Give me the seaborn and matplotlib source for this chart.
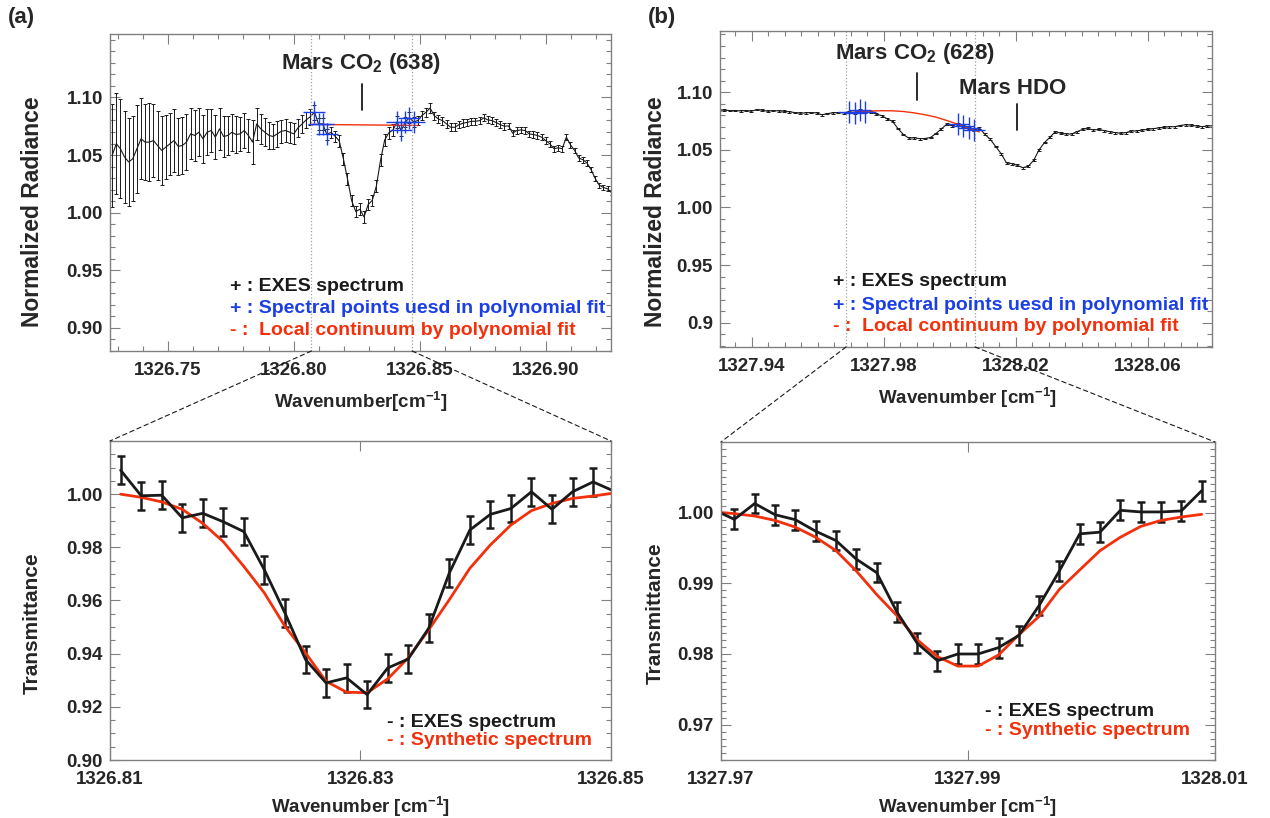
import matplotlib
matplotlib.use('Agg')
import matplotlib.pyplot as plt
import seaborn as sns
from matplotlib.ticker import MultipleLocator, FixedLocator, FixedFormatter
from matplotlib.patches import ConnectionPatch

# ---------------- data ----------------
# (a) top: EXES spectrum around the CO2 (638) line
wn_a = [1326.72786, 1326.72950, 1326.73114, 1326.73278, 1326.73442, 1326.73606, 1326.73770, 1326.73934, 1326.74098, 1326.74262,
        1326.74426, 1326.74590, 1326.74754, 1326.74918, 1326.75082, 1326.75246, 1326.75410, 1326.75574, 1326.75738, 1326.75902,
        1326.76066, 1326.76230, 1326.76394, 1326.76558, 1326.76722, 1326.76886, 1326.77050, 1326.77214, 1326.77378, 1326.77542,
        1326.77706, 1326.77870, 1326.78034, 1326.78198, 1326.78362, 1326.78526, 1326.78690, 1326.78854, 1326.79018, 1326.79182,
        1326.79346, 1326.79510, 1326.79674, 1326.79838, 1326.80002, 1326.80166, 1326.80330, 1326.80494, 1326.80658, 1326.80822,
        1326.80986, 1326.81150, 1326.81314, 1326.81478, 1326.81642, 1326.81806, 1326.81970, 1326.82134, 1326.82298, 1326.82462,
        1326.82626, 1326.82790, 1326.82954, 1326.83118, 1326.83282, 1326.83446, 1326.83610, 1326.83774, 1326.83938, 1326.84102,
        1326.84266, 1326.84430, 1326.84594, 1326.84758, 1326.84922, 1326.85086, 1326.85250, 1326.85414, 1326.85578, 1326.85742,
        1326.85906, 1326.86070, 1326.86234, 1326.86398, 1326.86562, 1326.86726, 1326.86890, 1326.87054, 1326.87218, 1326.87382,
        1326.87546, 1326.87710, 1326.87874, 1326.88038, 1326.88202, 1326.88366, 1326.88530, 1326.88694, 1326.88858, 1326.89022,
        1326.89186, 1326.89350, 1326.89514, 1326.89678, 1326.89842, 1326.90006, 1326.90170, 1326.90334, 1326.90498, 1326.90662,
        1326.90826, 1326.90990, 1326.91154, 1326.91318, 1326.91482, 1326.91646, 1326.91810, 1326.91974, 1326.92138, 1326.92302,
        1326.92466, 1326.92630]
rad_a = [1.0497, 1.0598, 1.0555, 1.0483, 1.0440, 1.0468, 1.0555, 1.0641, 1.0612, 1.0612,
         1.0626, 1.0583, 1.0540, 1.0569, 1.0598, 1.0626, 1.0575, 1.0583, 1.0612, 1.0684,
         1.0670, 1.0698, 1.0641, 1.0698, 1.0713, 1.0655, 1.0727, 1.0661, 1.0670, 1.0698,
         1.0678, 1.0684, 1.0713, 1.0670, 1.0612, 1.0770, 1.0727, 1.0698, 1.0670, 1.0661,
         1.0684, 1.0707, 1.0713, 1.0698, 1.0684, 1.0736, 1.0770, 1.0805, 1.0833, 1.0872,
         1.0769, 1.0771, 1.0679, 1.0697, 1.0663, 1.0623, 1.0468, 1.0293, 1.0105, 1.0010,
         1.0030, 0.9963, 1.0070, 1.0107, 1.0232, 1.0455, 1.0630, 1.0693, 1.0717, 1.0785,
         1.0714, 1.0785, 1.0825, 1.0788, 1.0799, 1.0842, 1.0871, 1.0908, 1.0842, 1.0813,
         1.0799, 1.0770, 1.0741, 1.0741, 1.0764, 1.0776, 1.0784, 1.0793, 1.0793, 1.0799,
         1.0822, 1.0805, 1.0799, 1.0782, 1.0764, 1.0750, 1.0753, 1.0690, 1.0713, 1.0718,
         1.0713, 1.0684, 1.0678, 1.0670, 1.0655, 1.0626, 1.0598, 1.0555, 1.0563, 1.0555,
         1.0655, 1.0589, 1.0540, 1.0474, 1.0460, 1.0431, 1.0373, 1.0296, 1.0238, 1.0218,
         1.0207, 1.0172]
err_a = [0.045, 0.044, 0.043, 0.040, 0.038, 0.037, 0.038, 0.035, 0.033, 0.034,
         0.032, 0.030, 0.030, 0.028, 0.027, 0.027, 0.025, 0.025, 0.024, 0.022,
         0.022, 0.021, 0.021, 0.020, 0.019, 0.019, 0.018, 0.018, 0.017, 0.016,
         0.016, 0.015, 0.015, 0.014, 0.019, 0.014, 0.013, 0.012, 0.012, 0.011,
         0.011, 0.010, 0.010, 0.009, 0.009, 0.008, 0.008, 0.007, 0.007, 0.0065,
         0.005, 0.005, 0.005, 0.005, 0.005, 0.005, 0.005, 0.005, 0.005, 0.005,
         0.005, 0.005, 0.005, 0.005, 0.005, 0.005, 0.005, 0.005, 0.005, 0.005,
         0.0045, 0.0045, 0.0045, 0.0045, 0.004, 0.004, 0.004, 0.004, 0.0035, 0.0035,
         0.0035, 0.0035, 0.0033, 0.0033, 0.0033, 0.0033, 0.0032, 0.0032, 0.0032, 0.0032,
         0.0030, 0.0030, 0.0030, 0.0030, 0.0030, 0.0029, 0.0029, 0.0029, 0.0029, 0.0029,
         0.0028, 0.0028, 0.0028, 0.0028, 0.0027, 0.0027, 0.0027, 0.0026, 0.0026, 0.0026,
         0.0025, 0.0025, 0.0025, 0.0025, 0.0025, 0.0024, 0.0024, 0.0024, 0.0023, 0.0023,
         0.0022, 0.0022]
fit_idx_a = [49, 50, 51, 52, 69, 70, 71, 72, 73]
cont_wn_a = [1326.80658, 1326.84922]
cont_a = [1.0766, 1.0757]
edges_a = [1326.807, 1326.847]

# (b) top: EXES spectrum around CO2 (628) and HDO
wn_b = [1327.92996, 1327.93160, 1327.93325, 1327.93489, 1327.93654, 1327.93818, 1327.93983, 1327.94147, 1327.94312, 1327.94476,
        1327.94641, 1327.94805, 1327.94970, 1327.95134, 1327.95299, 1327.95463, 1327.95628, 1327.95792, 1327.95957, 1327.96121,
        1327.96286, 1327.96450, 1327.96615, 1327.96779, 1327.96944, 1327.97108, 1327.97273, 1327.97437, 1327.97602, 1327.97766,
        1327.97931, 1327.98095, 1327.98260, 1327.98424, 1327.98589, 1327.98753, 1327.98918, 1327.99082, 1327.99247, 1327.99411,
        1327.99576, 1327.99740, 1327.99905, 1328.00069, 1328.00234, 1328.00398, 1328.00563, 1328.00727, 1328.00892, 1328.01056,
        1328.01221, 1328.01385, 1328.01550, 1328.01714, 1328.01879, 1328.02043, 1328.02208, 1328.02372, 1328.02537, 1328.02701,
        1328.02866, 1328.03030, 1328.03195, 1328.03359, 1328.03524, 1328.03688, 1328.03853, 1328.04017, 1328.04182, 1328.04346,
        1328.04511, 1328.04675, 1328.04840, 1328.05004, 1328.05169, 1328.05333, 1328.05498, 1328.05662, 1328.05827, 1328.05991,
        1328.06156, 1328.06320, 1328.06485, 1328.06649, 1328.06814, 1328.06978, 1328.07143, 1328.07307, 1328.07472, 1328.07636,
        1328.07801, 1328.07965]
rad_b = [1.0843, 1.0843, 1.0840, 1.0840, 1.0837, 1.0840, 1.0834, 1.0849, 1.0843, 1.0834,
         1.0840, 1.0837, 1.0834, 1.0829, 1.0823, 1.0817, 1.0820, 1.0823, 1.0820, 1.0803,
         1.0814, 1.0820, 1.0823, 1.0820, 1.0827, 1.0816, 1.0844, 1.0830, 1.0825, 1.0810,
         1.0796, 1.0769, 1.0746, 1.0684, 1.0632, 1.0601, 1.0604, 1.0596, 1.0598, 1.0607,
         1.0641, 1.0681, 1.0722, 1.0708, 1.0726, 1.0706, 1.0689, 1.0673, 1.0688, 1.0635,
         1.0591, 1.0529, 1.0466, 1.0386, 1.0380, 1.0365, 1.0345, 1.0357, 1.0409, 1.0500,
         1.0563, 1.0609, 1.0657, 1.0643, 1.0637, 1.0637, 1.0657, 1.0677, 1.0686, 1.0671,
         1.0677, 1.0666, 1.0657, 1.0649, 1.0643, 1.0649, 1.0663, 1.0663, 1.0671, 1.0677,
         1.0683, 1.0689, 1.0694, 1.0700, 1.0700, 1.0711, 1.0717, 1.0714, 1.0706, 1.0700,
         1.0706, 1.0708]
err_b = 0.0008
fit_idx_b = [24, 25, 26, 27, 44, 45, 46, 47]
cont_wn_b = [1327.96944, 1327.97273, 1327.97602, 1327.97931, 1327.98260, 1327.98589, 1327.98918,
             1327.99247, 1327.99576, 1327.99905, 1328.00234, 1328.00563, 1328.00892]
cont_b = [1.0823, 1.0830, 1.0836, 1.0839, 1.0838, 1.0832, 1.0820,
          1.0804, 1.0783, 1.0754, 1.0722, 1.0688, 1.0655]
edges_b = [1327.9685, 1328.0076]

# (a) bottom: transmittance
wn_ta = [1326.81085, 1326.81249, 1326.81413, 1326.81577, 1326.81741, 1326.81905, 1326.82069, 1326.82233, 1326.82397,
         1326.82561, 1326.82725, 1326.82889, 1326.83053, 1326.83217, 1326.83381, 1326.83545, 1326.83709, 1326.83873,
         1326.84037, 1326.84201, 1326.84365, 1326.84529, 1326.84693, 1326.84857, 1326.85021]
obs_ta = [1.0090, 0.9994, 0.9996, 0.9911, 0.9928, 0.9896, 0.9859, 0.9715, 0.9553, 0.9378, 0.9290, 0.9309, 0.9246,
          0.9346, 0.9380, 0.9496, 0.9703, 0.9865, 0.9924, 0.9946, 1.0009, 0.9943, 1.0009, 1.0046, 1.0012]
syn_ta = [1.0000, 0.9988, 0.9971, 0.9943, 0.9890, 0.9821, 0.9728, 0.9628, 0.9503, 0.9403, 0.9296, 0.9255, 0.9253,
          0.9305, 0.9384, 0.9490, 0.9603, 0.9721, 0.9809, 0.9884, 0.9938, 0.9965, 0.9984, 0.9993, 1.0004]
err_ta = 0.0052

# (b) bottom: transmittance
wn_tb = [1327.96944, 1327.97108, 1327.97273, 1327.97437, 1327.97602, 1327.97766, 1327.97931, 1327.98095, 1327.98260,
         1327.98424, 1327.98589, 1327.98753, 1327.98918, 1327.99082, 1327.99247, 1327.99411, 1327.99576, 1327.99740,
         1327.99905, 1328.00069, 1328.00234, 1328.00398, 1328.00563, 1328.00727, 1328.00892]
obs_tb = [1.0004, 0.99905, 1.00129, 0.99971, 0.99900, 0.99738, 0.99605, 0.99343, 0.99152, 0.98595, 0.98152, 0.97905,
          0.98000, 0.98000, 0.98090, 0.98262, 0.98686, 0.99176, 0.99700, 0.99724, 1.00033, 1.00010, 1.00010, 1.00024, 1.00310]
syn_tb = [1.0001, 0.99986, 0.99952, 0.99890, 0.99795, 0.99652, 0.99462, 0.99176, 0.98843, 0.98543, 0.98200, 0.97962,
          0.97829, 0.97829, 0.97986, 0.98271, 0.98533, 0.98914, 0.99190, 0.99462, 0.99652, 0.99805, 0.99890, 0.99938, 0.99976]
err_tb = 0.0014

# tick positions / labels
xt_a = [1326.75, 1326.80, 1326.85, 1326.90]
xl_a = ['1326.75', '1326.80', '1326.85', '1326.90']
yt_a = [0.90, 0.95, 1.00, 1.05, 1.10]
yl_a = ['0.90', '0.95', '1.00', '1.05', '1.10']
xt_b = [1327.94, 1327.98, 1328.02, 1328.06]
xl_b = ['1327.94', '1327.98', '1328.02', '1328.06']
yl_b = ['0.9', '0.95', '1.00', '1.05', '1.10']
xt_ta = [1326.81, 1326.83, 1326.85]
xl_ta = ['1326.81', '1326.83', '1326.85']
yt_ta = [0.90, 0.92, 0.94, 0.96, 0.98, 1.00]
yl_ta = ['0.90', '0.92', '0.94', '0.96', '0.98', '1.00']
xt_tb = [1327.97, 1327.99, 1328.01]
xl_tb = ['1327.97', '1327.99', '1328.01']
yt_tb = [0.97, 0.98, 0.99, 1.00]
yl_tb = ['0.97', '0.98', '0.99', '1.00']

BLUE = '#1b3fe6'
RED = '#f2300c'
GRAY = '#808080'

sns.set_theme(style='ticks')
plt.rcParams['font.family'] = ['Liberation Sans', 'DejaVu Sans']
plt.rcParams['font.weight'] = 'bold'
plt.rcParams['mathtext.fontset'] = 'custom'
plt.rcParams['mathtext.rm'] = 'Liberation Sans:bold'
plt.rcParams['mathtext.it'] = 'Liberation Sans:bold'
plt.rcParams['mathtext.bf'] = 'Liberation Sans:bold'
plt.rcParams['mathtext.default'] = 'rm'

fig = plt.figure(figsize=(12.7, 8.18), dpi=100)
ax1 = fig.add_axes([0.0866, 0.5709, 0.3945, 0.3875])
ax2 = fig.add_axes([0.5669, 0.5758, 0.3874, 0.3863])
ax3 = fig.add_axes([0.0866, 0.0709, 0.3945, 0.3900])
ax4 = fig.add_axes([0.5677, 0.0709, 0.3890, 0.3888])


def style_axis(ax, xt, xl, yt, yl, xminor, yminor, xlim, ylim):
    ax.set_xlim(xlim)
    ax.set_ylim(ylim)
    ax.xaxis.set_major_locator(FixedLocator(xt))
    ax.xaxis.set_major_formatter(FixedFormatter(xl))
    ax.yaxis.set_major_locator(FixedLocator(yt))
    ax.yaxis.set_major_formatter(FixedFormatter(yl))
    if xminor:
        ax.xaxis.set_minor_locator(MultipleLocator(xminor))
    if yminor:
        ax.yaxis.set_minor_locator(MultipleLocator(yminor))
    ax.tick_params(which='both', direction='in', top=True, right=True, color=GRAY, width=0.8)
    ax.tick_params(which='major', length=7)
    ax.tick_params(which='minor', length=3.5)
    ax.tick_params(axis='x', pad=8, labelsize=13.5)
    ax.tick_params(axis='y', pad=5, labelsize=13.5)
    for lab in ax.get_xticklabels() + ax.get_yticklabels():
        lab.set_fontweight('bold')
    for sp in ax.spines.values():
        sp.set_color(GRAY)
        sp.set_linewidth(1.0)


# ---- (a) top ----
ax1.errorbar(wn_a, rad_a, yerr=err_a, fmt='none', ecolor='#1a1a1a', elinewidth=0.7, capsize=1.6, capthick=0.7)
sns.lineplot(x=wn_a, y=rad_a, ax=ax1, color='k', lw=0.8, estimator=None, sort=False)
sns.lineplot(x=cont_wn_a, y=cont_a, ax=ax1, color=RED, lw=1.0, estimator=None, sort=False)
sns.scatterplot(x=[wn_a[i] for i in fit_idx_a], y=[rad_a[i] for i in fit_idx_a], ax=ax1,
                marker='+', s=260, color=BLUE, linewidth=1.0, zorder=4)
for e in edges_a:
    ax1.axvline(e, color='#a0a0a0', ls=':', lw=0.9)
style_axis(ax1, xt_a, xl_a, yt_a, yl_a, 0.01, 0.01, (1326.727, 1326.926), (0.880, 1.155))
ax1.plot([1326.827, 1326.827], [1.0888, 1.112], color='k', lw=1.3)
ax1.text(1326.8266, 1.1293, 'Mars CO$_2$ (638)', ha='center', va='center', fontsize=16, fontweight='bold')
ax1.text(0.2395, 0.205, '+ : EXES spectrum', transform=ax1.transAxes, fontsize=14, va='center', color='k')
ax1.text(0.2395, 0.1356, '+ : Spectral points uesd in polynomial fit', transform=ax1.transAxes,
         fontsize=14, va='center', color=BLUE)
ax1.text(0.2395, 0.066, '- :  Local continuum by polynomial fit', transform=ax1.transAxes,
         fontsize=14, va='center', color=RED)
ax1.set_xlabel('Wavenumber[cm$^{-1}$]', fontsize=13.5, fontweight='bold')
ax1.set_ylabel('Normalized Radiance', fontsize=16.5, fontweight='bold')

# ---- (b) top ----
ax2.errorbar(wn_b, rad_b, yerr=err_b, fmt='none', ecolor='#1a1a1a', elinewidth=0.7, capsize=1.6, capthick=0.7)
sns.lineplot(x=wn_b, y=rad_b, ax=ax2, color='k', lw=0.8, estimator=None, sort=False)
sns.lineplot(x=cont_wn_b, y=cont_b, ax=ax2, color=RED, lw=1.0, estimator=None, sort=False)
sns.scatterplot(x=[wn_b[i] for i in fit_idx_b], y=[rad_b[i] for i in fit_idx_b], ax=ax2,
                marker='+', s=260, color=BLUE, linewidth=1.0, zorder=4)
for e in edges_b:
    ax2.axvline(e, color='#a0a0a0', ls=':', lw=0.9)
style_axis(ax2, xt_b, xl_b, yt_a, yl_b, 0.005, 0.01, (1327.9303, 1328.0794), (0.879, 1.153))
ax2.plot([1327.990, 1327.990], [1.093, 1.117], color='k', lw=1.3)
ax2.text(1327.9894, 1.1336, 'Mars CO$_2$ (628)', ha='center', va='center', fontsize=16, fontweight='bold')
ax2.plot([1328.0202, 1328.0202], [1.0672, 1.0897], color='k', lw=1.3)
ax2.text(1328.0191, 1.1034, 'Mars HDO', ha='center', va='center', fontsize=16, fontweight='bold')
ax2.text(0.2297, 0.2057, '+ : EXES spectrum', transform=ax2.transAxes, fontsize=14, va='center', color='k')
ax2.text(0.2297, 0.1329, '+ : Spectral points uesd in polynomial fit', transform=ax2.transAxes,
         fontsize=14, va='center', color=BLUE)
ax2.text(0.2297, 0.0633, '- :  Local continuum by polynomial fit', transform=ax2.transAxes,
         fontsize=14, va='center', color=RED)
ax2.set_xlabel('Wavenumber [cm$^{-1}$]', fontsize=13.5, fontweight='bold')
ax2.set_ylabel('Normalized Radiance', fontsize=16.5, fontweight='bold')

# ---- (a) bottom ----
ax3.errorbar(wn_ta, obs_ta, yerr=err_ta, fmt='none', ecolor='k', elinewidth=1.8, capsize=3, capthick=1.8)
sns.lineplot(x=wn_ta, y=syn_ta, ax=ax3, color=RED, lw=2.0, estimator=None, sort=False)
sns.lineplot(x=wn_ta, y=obs_ta, ax=ax3, color='k', lw=2.0, estimator=None, sort=False)
style_axis(ax3, xt_ta, xl_ta, yt_ta, yl_ta, None, 0.005, (1326.81, 1326.85), (0.90, 1.02))
ax3.text(0.553, 0.119, '- : EXES spectrum', transform=ax3.transAxes, fontsize=14, va='center', color='k')
ax3.text(0.553, 0.0596, '- : Synthetic spectrum', transform=ax3.transAxes, fontsize=14, va='center', color=RED)
ax3.set_xlabel('Wavenumber [cm$^{-1}$]', fontsize=13.5, fontweight='bold')
ax3.set_ylabel('Transmittance', fontsize=15, fontweight='bold')

# ---- (b) bottom ----
ax4.errorbar(wn_tb, obs_tb, yerr=err_tb, fmt='none', ecolor='k', elinewidth=1.8, capsize=3, capthick=1.8)
sns.lineplot(x=wn_tb, y=syn_tb, ax=ax4, color=RED, lw=2.0, estimator=None, sort=False)
sns.lineplot(x=wn_tb, y=obs_tb, ax=ax4, color='k', lw=2.0, estimator=None, sort=False)
style_axis(ax4, xt_tb, xl_tb, yt_tb, yl_tb, None, 0.001, (1327.97, 1328.01), (0.965, 1.010))
ax4.text(0.534, 0.154, '- : EXES spectrum', transform=ax4.transAxes, fontsize=14, va='center', color='k')
ax4.text(0.534, 0.094, '- : Synthetic spectrum', transform=ax4.transAxes, fontsize=14, va='center', color=RED)
ax4.set_xlabel('Wavenumber [cm$^{-1}$]', fontsize=13.5, fontweight='bold')
ax4.set_ylabel('Transmittance', fontsize=15, fontweight='bold')

# label placement
for ax, xx, xy, yx, yy in [(ax1, 0.50, -0.161, -0.154, 0.438), (ax2, 0.504, -0.161, -0.132, 0.427),
                           (ax3, 0.50, -0.147, -0.156, 0.43), (ax4, 0.50, -0.147, -0.134, 0.462)]:
    ax.xaxis.set_label_coords(xx, xy)
    ax.xaxis.label.set_va('center')
    ax.yaxis.set_label_coords(yx, yy)
    ax.yaxis.label.set_va('center')

# zoom connectors
for top, bot, edges in [(ax1, ax3, edges_a), (ax2, ax4, edges_b)]:
    y0 = top.get_ylim()[0]
    bx = bot.get_xlim()
    by = bot.get_ylim()[1]
    for e, bxx in zip(edges, bx):
        con = ConnectionPatch(xyA=(e, y0), coordsA=top.transData, xyB=(bxx, by), coordsB=bot.transData,
                              color='k', lw=0.8, linestyle=(0, (4, 3)))
        fig.add_artist(con)

fig.text(8 / 1270, 1 - 18 / 818, '(a)', fontsize=16, fontweight='bold', va='center', ha='left')
fig.text(648 / 1270, 1 - 18 / 818, '(b)', fontsize=16, fontweight='bold', va='center', ha='left')

fig.savefig('out.png', dpi=100)
